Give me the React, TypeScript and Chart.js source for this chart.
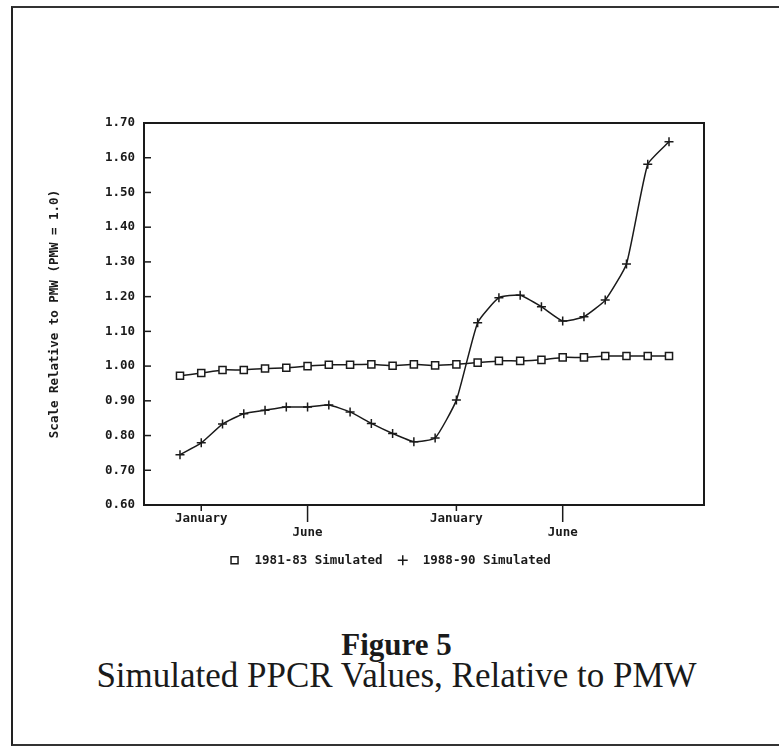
import React, { useEffect, useRef } from 'react';
import { Chart, registerables } from 'chart.js';

Chart.register(...registerables);

// ---- data ----
const monthIndex = [0, 1, 2, 3, 4, 5, 6, 7, 8, 9, 10, 11, 12, 13, 14, 15, 16, 17, 18, 19, 20, 21, 22, 23];
const series1981 = [0.972, 0.980, 0.989, 0.989, 0.993, 0.995, 1.000, 1.004, 1.004, 1.005, 1.001, 1.005, 1.002, 1.005, 1.010, 1.015, 1.015, 1.018, 1.025, 1.025, 1.029, 1.029, 1.029, 1.029];
const series1988 = [0.745, 0.779, 0.833, 0.863, 0.873, 0.882, 0.882, 0.888, 0.868, 0.835, 0.806, 0.782, 0.793, 0.902, 1.125, 1.197, 1.204, 1.171, 1.130, 1.142, 1.190, 1.294, 1.581, 1.646];
const seriesLabels = ['1981-83 Simulated', '1988-90 Simulated'];
const xTickPositions = [1, 6, 13, 18];
const xTickLabels = ['January', 'June', 'January', 'June'];
const xTickRow = [0, 1, 0, 1];
const yTitle = 'Scale Relative to PMW (PMW = 1.0)';
const figureLabel = 'Figure 5';
const figureCaption = 'Simulated PPCR Values, Relative to PMW';

const INK = '#1a1a1a';
const MONO = { family: '"DejaVu Sans Mono", monospace', size: 12.5, weight: 'bold' as const };

const rowTicks = (row: number) => xTickPositions.filter((_, i) => xTickRow[i] === row);
const labelFor = (value: any) => {
  const idx = xTickPositions.indexOf(Number(value));
  return idx < 0 ? '' : xTickLabels[idx];
};

const framePlugin = {
  id: 'frameTicks',
  afterDatasetsDraw(chart: any) {
    const { ctx, chartArea, scales } = chart;
    const { left, top, right, bottom } = chartArea;
    ctx.save();
    ctx.strokeStyle = INK;
    ctx.lineWidth = 2;
    ctx.strokeRect(left, top, right - left, bottom - top);
    ctx.lineWidth = 1.5;
    scales.y.ticks.forEach((t: any) => {
      const py = scales.y.getPixelForValue(t.value);
      ctx.beginPath();
      ctx.moveTo(left, py);
      ctx.lineTo(left + 7, py);
      ctx.stroke();
    });
    const drawX = (scale: any, len: number) => {
      scale.ticks.forEach((t: any) => {
        const px = scale.getPixelForValue(t.value);
        ctx.beginPath();
        ctx.moveTo(px, bottom);
        ctx.lineTo(px, bottom + len);
        ctx.stroke();
      });
    };
    drawX(scales.x, 6);
    drawX(scales.x2, 17);
    ctx.restore();
  },
};

const xBase = {
  type: 'linear',
  position: 'bottom',
  min: -1.693,
  max: 24.646,
  grid: { display: false, drawTicks: false },
  border: { display: false },
};

function ChartCanvas() {
  const ref = useRef<HTMLCanvasElement | null>(null);
  useEffect(() => {
    if (!ref.current) return;
    const chart = new Chart(ref.current, {
      type: 'line',
      data: {
        datasets: [
          {
            label: seriesLabels[0],
            data: series1981.map((v, i) => ({ x: monthIndex[i], y: v })),
            borderColor: INK,
            backgroundColor: '#ffffff',
            borderWidth: 1.5,
            pointStyle: 'rect',
            pointRadius: 5,
            pointBorderWidth: 1.5,
            pointBackgroundColor: '#ffffff',
            pointBorderColor: INK,
            tension: 0.15,
          },
          {
            label: seriesLabels[1],
            data: series1988.map((v, i) => ({ x: monthIndex[i], y: v })),
            borderColor: INK,
            backgroundColor: '#ffffff',
            borderWidth: 1.5,
            pointStyle: 'cross',
            pointRadius: 4.5,
            pointBorderWidth: 1.5,
            pointBorderColor: INK,
            tension: 0.15,
          },
        ],
      },
      options: {
        responsive: false,
        animation: false,
        devicePixelRatio: 1,
        layout: { padding: { top: 123, right: 0, bottom: 3.5, left: 0 } },
        scales: {
          x: {
            ...xBase,
            ticks: {
              autoSkip: false,
              maxRotation: 0,
              minRotation: 0,
              padding: 6,
              color: INK,
              font: MONO,
              callback: labelFor,
            },
            afterBuildTicks: (axis: any) => {
              axis.ticks = rowTicks(0).map((v) => ({ value: v }));
            },
            afterFit: (s: any) => {
              s.height = 20;
            },
          },
          x2: {
            ...xBase,
            ticks: {
              autoSkip: false,
              maxRotation: 0,
              minRotation: 0,
              padding: 0,
              color: INK,
              font: MONO,
              callback: labelFor,
            },
            afterBuildTicks: (axis: any) => {
              axis.ticks = rowTicks(1).map((v) => ({ value: v }));
            },
            afterFit: (s: any) => {
              s.height = 15;
            },
          },
          y: {
            type: 'linear',
            min: 0.6,
            max: 1.7,
            grid: { display: false, drawTicks: false },
            border: { display: false },
            ticks: {
              stepSize: 0.1,
              padding: 9,
              color: INK,
              font: MONO,
              callback: (value: any) => Number(value).toFixed(2),
            },
            title: {
              display: true,
              text: yTitle,
              color: INK,
              font: MONO,
              padding: { top: 47.5, bottom: 0 },
            },
            afterFit: (s: any) => {
              s.width = 144;
            },
          },
          yRight: {
            type: 'linear',
            position: 'right',
            display: true,
            grid: { display: false, drawTicks: false },
            border: { display: false },
            ticks: { display: false },
            afterFit: (s: any) => {
              s.width = 75;
            },
          },
        },
        plugins: {
          legend: {
            display: true,
            position: 'bottom',
            align: 'center',
            labels: {
              usePointStyle: true,
              boxHeight: 7,
              padding: 14,
              color: INK,
              font: MONO,
              generateLabels: (chart: any) =>
                Chart.defaults.plugins.legend.labels
                  .generateLabels(chart)
                  .map((item: any) => ({ ...item, text: ' ' + item.text })),
            },
          },
          tooltip: { enabled: false },
        },
      } as any,
      plugins: [framePlugin],
    });
    return () => chart.destroy();
  }, []);
  return (
    <canvas
      ref={ref}
      width={779}
      height={580}
      style={{ position: 'absolute', left: 0, top: 0, width: 779, height: 580 }}
    />
  );
}

export default function App() {
  return (
    <div
      style={{
        position: 'absolute',
        left: 0,
        top: 0,
        width: 779,
        height: 747,
        overflow: 'hidden',
        background: '#ffffff',
      }}
    >
      <div
        style={{
          position: 'absolute',
          left: 11,
          top: 6,
          width: 768,
          height: 740,
          boxSizing: 'border-box',
          borderLeft: '2px solid #222',
          borderTop: '2px solid #333',
          borderBottom: '2px solid #333',
        }}
      />
      <ChartCanvas />
      <div
        style={{
          position: 'absolute',
          left: 0,
          top: 628,
          width: 779,
          paddingLeft: 14,
          boxSizing: 'border-box',
          textAlign: 'center',
          font: 'bold 31px "Liberation Serif", serif',
          lineHeight: '34px',
          color: INK,
        }}
      >
        {figureLabel}
      </div>
      <div
        style={{
          position: 'absolute',
          left: 0,
          top: 658,
          width: 779,
          paddingLeft: 14,
          boxSizing: 'border-box',
          textAlign: 'center',
          font: '35px "Liberation Serif", serif',
          lineHeight: '36px',
          color: INK,
          whiteSpace: 'nowrap',
        }}
      >
        {figureCaption}
      </div>
    </div>
  );
}
